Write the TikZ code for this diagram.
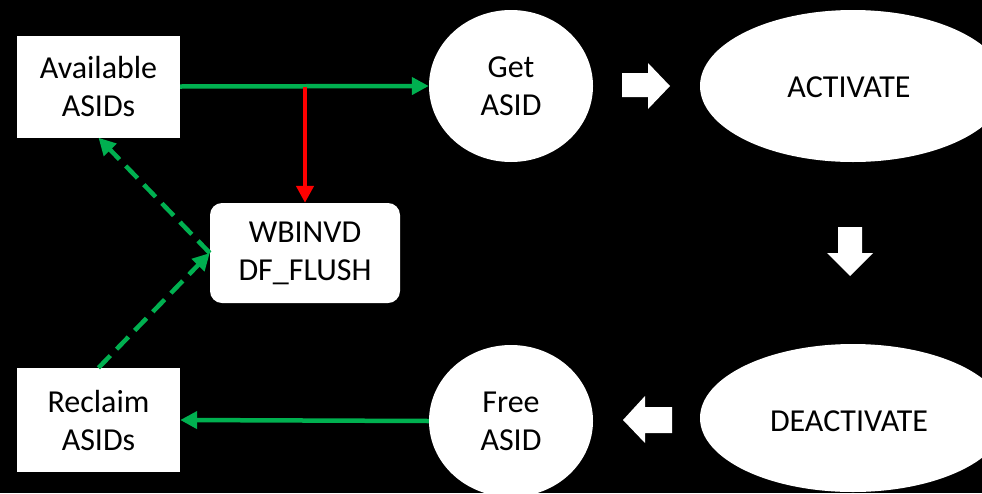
\documentclass[tikz,border=0pt]{standalone}
\usepackage{fontspec}
\setmainfont{Carlito}
\usetikzlibrary{shapes.geometric,arrows.meta}
\definecolor{ogreen}{HTML}{00B050}
\definecolor{ored}{HTML}{FF0000}
\begin{document}
\begin{tikzpicture}[x=1pt,y=-1pt,
  lbl/.style={text=black, align=center, font=\fontsize{32}{38}\selectfont, inner sep=0pt},
  box/.style={lbl, rectangle, fill=white},
  rbox/.style={box, rounded corners=12pt},
  oval/.style={lbl, ellipse, fill=white},
  garrow/.style={draw=ogreen, line width=4.5pt, -{Triangle[length=17pt,width=17pt]}},
  gdash/.style={draw=ogreen, line width=4.5pt, dash pattern=on 17pt off 9pt, -{Triangle[length=17pt,width=17pt]}},
  rarrow/.style={draw=ored, line width=4.5pt, -{Triangle[length=17pt,width=17pt]}},
  blockarrow/.style={fill=white}
]
\fill[black] (0,0) rectangle (982,493);
\clip (0,0) rectangle (982,493);

\node[box, minimum width=163pt, minimum height=102pt] (avail) at (98.5,86.5) {Available\\ASIDs};
\node[box, minimum width=163pt, minimum height=104pt] (reclaim) at (98.5,420) {Reclaim\\ASIDs};
\node[rbox, minimum width=190pt, minimum height=100pt] (wb) at (305,253) {WBINVD\\DF\_FLUSH};
\node[oval, minimum width=164pt, minimum height=152pt] (get) at (511,86) {Get\\ASID};
\node[oval, minimum width=164pt, minimum height=152pt] (free) at (511,421) {Free\\ASID};
\node[oval, minimum width=306pt, minimum height=152pt] (act) at (853,86) {};
\node[lbl] (actt) at (849,87) {ACTIVATE};
\node[oval, minimum width=306pt, minimum height=148pt] (deact) at (853,418) {};
\node[lbl] (deactt) at (849,421) {DEACTIVATE};

\coordinate (split) at (305,86.5);

\draw[garrow] (avail.east) -- (get.west);
\draw[rarrow] (split) -- (wb.north);
\draw[garrow] (free.west) -- (reclaim.east);
\draw[gdash] (wb.west) -- (avail.south);
\draw[gdash] (reclaim.north) -- (wb.west);

\fill[blockarrow] (622,73) -- (648,73) -- (648,63) -- (670,86) -- (648,109) -- (648,97) -- (622,97) -- cycle;
\fill[blockarrow] (838,227) -- (862,227) -- (862,253) -- (873,253) -- (850,276) -- (827,253) -- (838,253) -- cycle;
\fill[blockarrow] (672,407) -- (645,407) -- (645,396) -- (623,420) -- (645,443) -- (645,433) -- (672,433) -- cycle;
\end{tikzpicture}
\end{document}
